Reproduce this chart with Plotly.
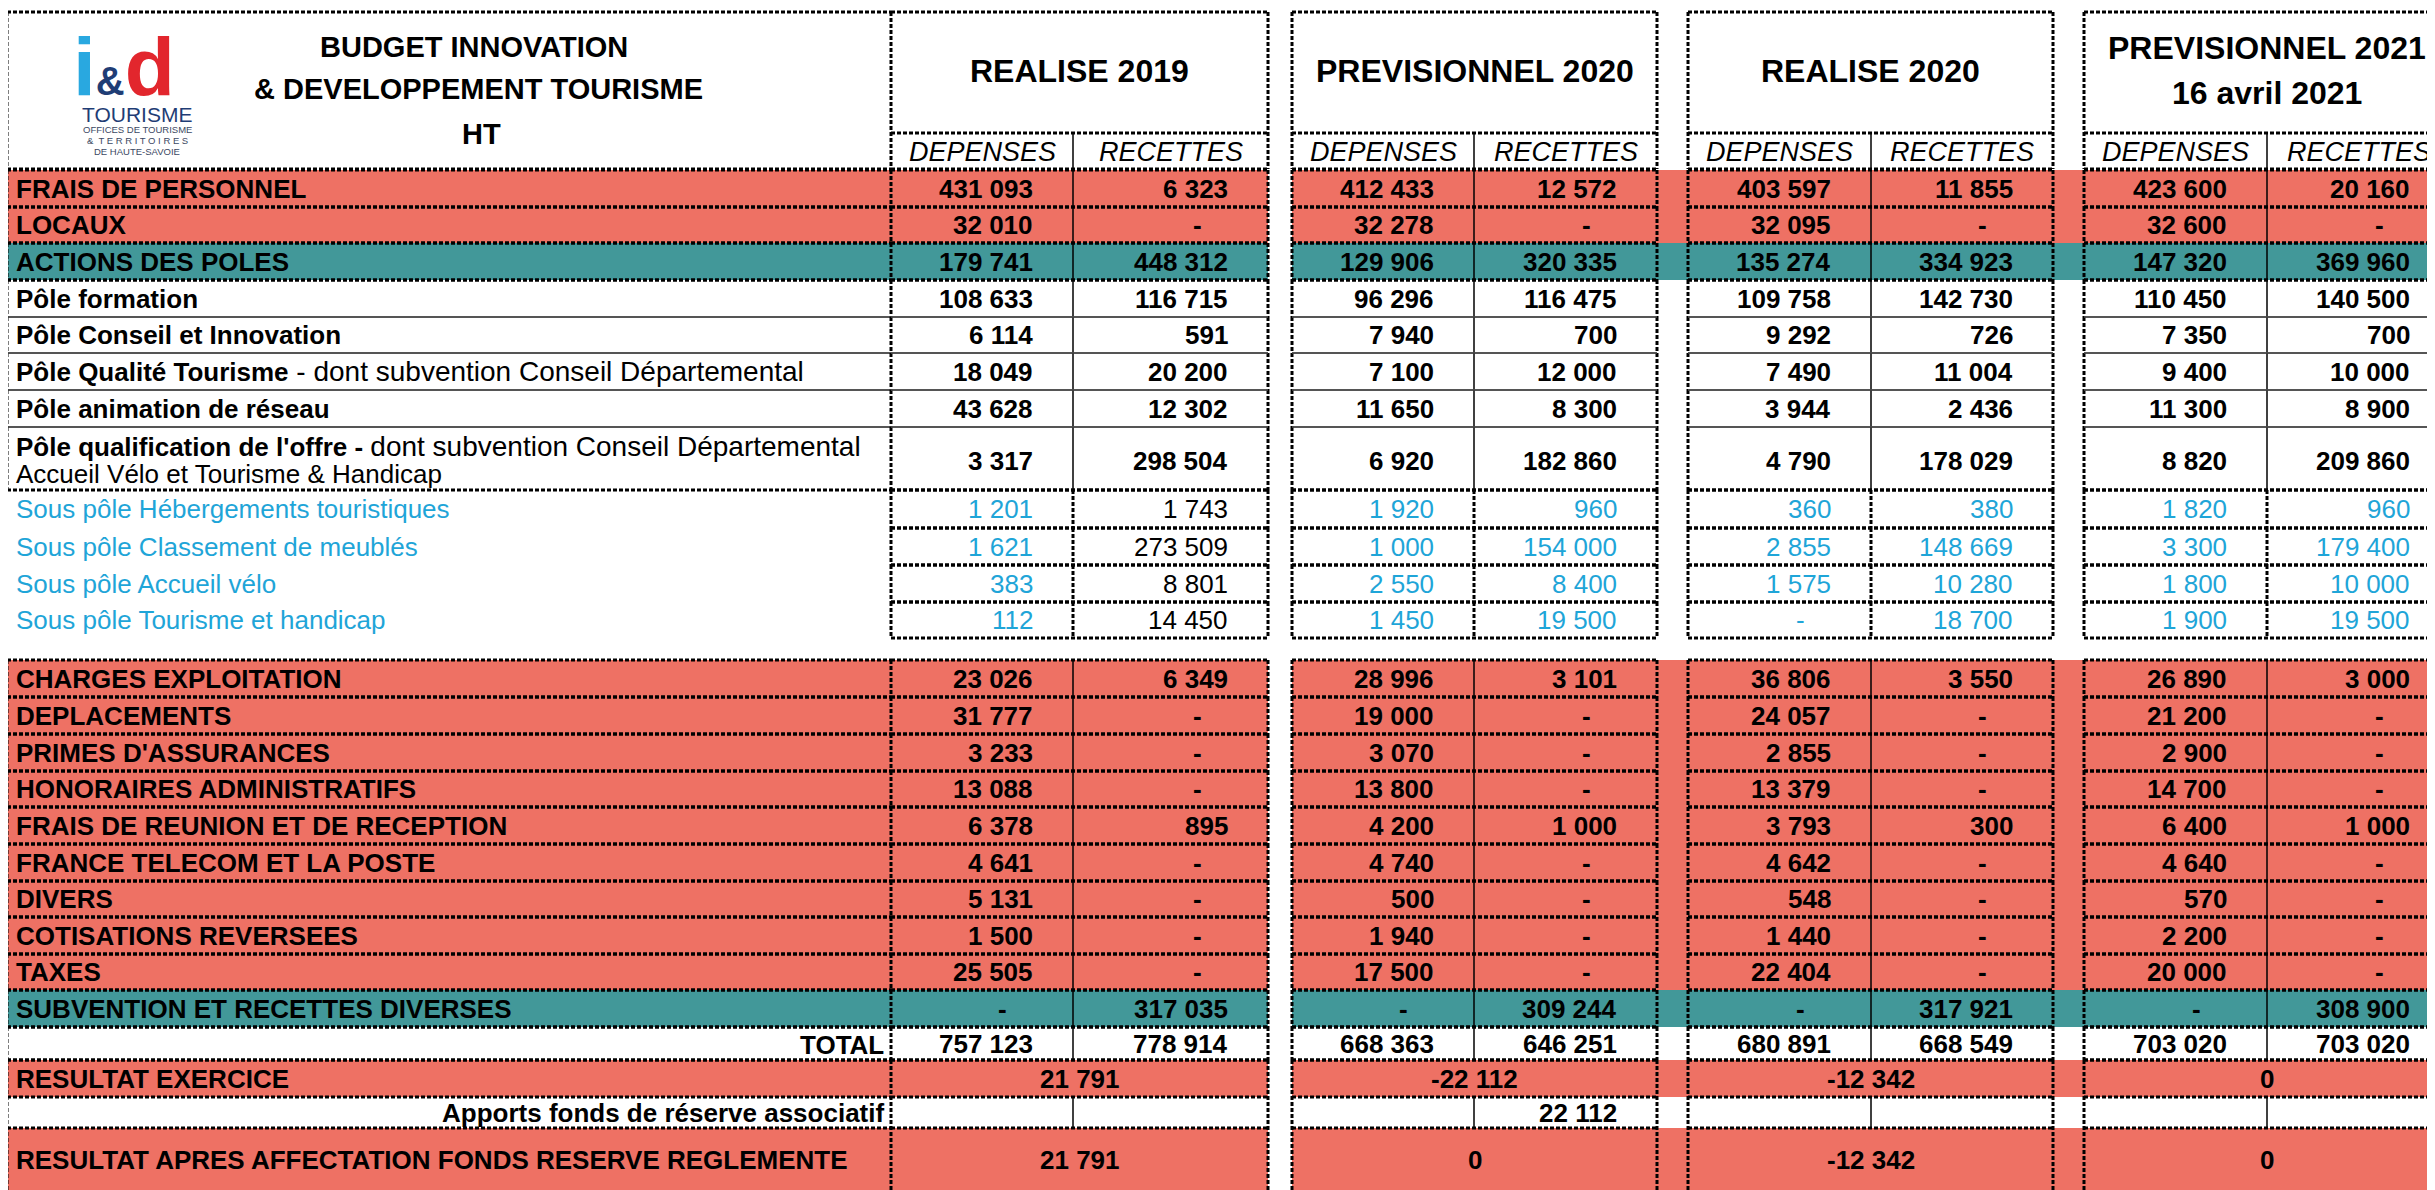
import plotly.graph_objects as go

# ------------------------------------------------------------------ data
title_lines = ["BUDGET INNOVATION", "& DEVELOPPEMENT TOURISME", "HT"]
block_titles = [["REALISE 2019"], ["PREVISIONNEL 2020"], ["REALISE 2020"],
                ["PREVISIONNEL 2021", "16 avril 2021"]]
col_heads = ["DEPENSES", "RECETTES"]

label_main = [
    "FRAIS DE PERSONNEL", "LOCAUX", "ACTIONS DES POLES", "Pôle formation",
    "Pôle Conseil et Innovation", "Pôle Qualité Tourisme", "Pôle animation de réseau",
    "Pôle qualification de l'offre - ",
    "Sous pôle Hébergements touristiques", "Sous pôle Classement de meublés",
    "Sous pôle Accueil vélo", "Sous pôle Tourisme et handicap",
    "CHARGES EXPLOITATION", "DEPLACEMENTS", "PRIMES D'ASSURANCES",
    "HONORAIRES ADMINISTRATIFS", "FRAIS DE REUNION ET DE RECEPTION",
    "FRANCE TELECOM ET LA POSTE", "DIVERS", "COTISATIONS REVERSEES", "TAXES",
    "SUBVENTION ET RECETTES DIVERSES", "TOTAL",
]
label_note = ["", "", "", "", "", " - dont subvention Conseil Départemental", "",
              "dont subvention Conseil Départemental"] + [""] * 15
label_line2 = [""] * 7 + ["Accueil Vélo et Tourisme & Handicap"] + [""] * 15
row_kind = (["salmon", "salmon", "teal", "pole", "pole", "pole", "pole", "pole2",
             "sous", "sous", "sous", "sous"] + ["salmon"] * 9 + ["teal", "total"])

r2019_dep = [431093, 32010, 179741, 108633, 6114, 18049, 43628, 3317, 1201, 1621, 383, 112,
             23026, 31777, 3233, 13088, 6378, 4641, 5131, 1500, 25505, None, 757123]
r2019_rec = [6323, None, 448312, 116715, 591, 20200, 12302, 298504, 1743, 273509, 8801, 14450,
             6349, None, None, None, 895, None, None, None, None, 317035, 778914]
p2020_dep = [412433, 32278, 129906, 96296, 7940, 7100, 11650, 6920, 1920, 1000, 2550, 1450,
             28996, 19000, 3070, 13800, 4200, 4740, 500, 1940, 17500, None, 668363]
p2020_rec = [12572, None, 320335, 116475, 700, 12000, 8300, 182860, 960, 154000, 8400, 19500,
             3101, None, None, None, 1000, None, None, None, None, 309244, 646251]
r2020_dep = [403597, 32095, 135274, 109758, 9292, 7490, 3944, 4790, 360, 2855, 1575, None,
             36806, 24057, 2855, 13379, 3793, 4642, 548, 1440, 22404, None, 680891]
r2020_rec = [11855, None, 334923, 142730, 726, 11004, 2436, 178029, 380, 148669, 10280, 18700,
             3550, None, None, None, 300, None, None, None, None, 317921, 668549]
p2021_dep = [423600, 32600, 147320, 110450, 7350, 9400, 11300, 8820, 1820, 3300, 1800, 1900,
             26890, 21200, 2900, 14700, 6400, 4640, 570, 2200, 20000, None, 703020]
p2021_rec = [20160, None, 369960, 140500, 700, 10000, 8900, 209860, 960, 179400, 10000, 19500,
             3000, None, None, None, 1000, None, None, None, None, 308900, 703020]

resultat_label = "RESULTAT EXERCICE"
resultat_exercice = [21791, -22112, -12342, 0]
apports_label = "Apports fonds de réserve associatif"
apports_rec = [None, 22112, None, None]
apres_label = "RESULTAT APRES AFFECTATION FONDS RESERVE REGLEMENTE"
resultat_apres = [21791, 0, -12342, 0]

block_values = [(r2019_dep, r2019_rec), (p2020_dep, p2020_rec),
                (r2020_dep, r2020_rec), (p2021_dep, p2021_rec)]

# ------------------------------------------------------------------ layout / style
W, H = 2435, 1190
OFF = 8  # default page body margin, compensated through the axis ranges
LX0, LX1 = 7, 891
BLOCKS = [(891, 1073, 1268), (1292, 1474, 1657), (1688, 1871, 2053), (2084, 2267, 2450)]
GAPS = [(1268, 1292, False), (1657, 1688, True), (2053, 2084, True)]
HEAD_TOP, HEAD_SPLIT, HEAD_BOT = 12, 133, 169
ROW_EDGES = [170, 207, 243, 280, 317, 353, 390, 427, 490, 528, 565, 602, 638,
             660, 697, 734, 771, 807, 844, 881, 917, 954, 990, 1027, 1060]
RES_EDGES = [1060, 1097, 1128, 1200]

SALMON = "#EE7164"
TEAL = "#429899"
BLUE = "#1FA5D8"
FONT = "Liberation Sans, Arial, sans-serif"
DASH = dict(color="black", width=3, dash="4px,2px")
THIN = dict(color="black", width=1.5)
GRAY = dict(color="#4a4a4a", width=1.5)
PAD = 38
DASH_OFF = 71
FS = 26
NOTE_FS = 28

shapes, ann = [], []


def rect(x0, x1, y0, y1, color):
    shapes.append(dict(type="rect", xref="x", yref="y", x0=x0, x1=x1, y0=y0, y1=y1,
                       fillcolor=color, line=dict(width=0), layer="below"))


def hline(x0, x1, y, style):
    shapes.append(dict(type="line", xref="x", yref="y", x0=x0, x1=x1, y0=y, y1=y, line=style))


def vline(x, y0, y1, style):
    shapes.append(dict(type="line", xref="x", yref="y", x0=x, x1=x, y0=y0, y1=y1, line=style))


def text(x, y, s, size, color="black", bold=False, italic=False, anchor="left", family=FONT):
    ann.append(dict(x=x, y=y, xref="x", yref="y", text=s, showarrow=False,
                    xanchor=anchor, yanchor="middle", align=anchor,
                    font=dict(size=size, color=color, family=family,
                              weight="bold" if bold else "normal",
                              style="italic" if italic else "normal")))


def fmt(v):
    return format(v, ",").replace(",", " ")


def fill_row(y0, y1, color):
    rect(LX0, BLOCKS[0][2], y0, y1, color)
    for (b0, _, b1) in BLOCKS[1:]:
        rect(b0, b1, y0, y1, color)
    for g0, g1, colored in GAPS:
        if colored:
            rect(g0, g1, y0, y1, color)


def value_cell(col_right, y, v, size, color, bold):
    if v is None:
        text(col_right - DASH_OFF, y, "-", size, color, bold, anchor="center")
    else:
        text(col_right - PAD, y, fmt(v), size, color, bold, anchor="right")


def label_html(main, note):
    s = "<b>" + main + "</b>"
    if note:
        s += "<span style='font-size:%dpx'>%s</span>" % (NOTE_FS, note)
    return s


# ------------------------------------------------------------------ header
hline(LX0, LX1, HEAD_TOP, DASH)
vline(LX0, HEAD_TOP, HEAD_BOT, DASH)
hline(LX0, LX1, HEAD_BOT, DASH)
text(474, 47, title_lines[0], 29, bold=True, anchor="center")
text(478, 89, title_lines[1], 29, bold=True, anchor="center")
text(481, 134, title_lines[2], 29, bold=True, anchor="center")
# logo
logo = ("<span style='color:#29A8E0'>i</span>"
        "<span style='color:#1F3D75;font-size:40px'>&amp;</span>"
        "<span style='color:#E2262D'>d</span>")
text(124, 66, logo, 82, bold=True, anchor="center")
text(137, 114, "TOURISME", 21, "#1F3D75", anchor="center")
text(137, 129, "OFFICES DE TOURISME", 9.5, "#3b4863", anchor="center")
text(137, 140, "&amp;  T E R R I T O I R E S", 9.5, "#3b4863", anchor="center")
text(137, 151, "DE HAUTE-SAVOIE", 9.5, "#3b4863", anchor="center")

for (b0, bd, b1), lines in zip(BLOCKS, block_titles):
    hline(b0, b1, HEAD_TOP, DASH)
    hline(b0, b1, HEAD_SPLIT, DASH)
    hline(b0, b1, HEAD_BOT, DASH)
    vline(b0, HEAD_TOP, HEAD_BOT, DASH)
    vline(b1, HEAD_TOP, HEAD_BOT, DASH)
    vline(bd, HEAD_SPLIT, HEAD_BOT, THIN)
    cx = (b0 + b1) / 2
    if len(lines) == 1:
        text(cx, 71, lines[0], 32, bold=True, anchor="center")
    else:
        text(cx, 48, lines[0], 32, bold=True, anchor="center")
        text(cx, 93, lines[1], 32, bold=True, anchor="center")
    text((b0 + bd) / 2, 152, col_heads[0], 27, italic=True, anchor="center")
    text((bd + b1) / 2, 152, col_heads[1], 27, italic=True, anchor="center")

# ------------------------------------------------------------------ body rows
n_top = 12
for i, kind in enumerate(row_kind):
    if i < n_top:
        y0, y1 = ROW_EDGES[i], ROW_EDGES[i + 1]
    else:
        y0, y1 = ROW_EDGES[i + 1], ROW_EDGES[i + 2]
    yc = (y0 + y1) / 2
    if kind == "salmon":
        fill_row(y0, y1, SALMON)
    elif kind == "teal":
        fill_row(y0, y1, TEAL)

    sous = kind == "sous"
    prev_pole = i > 0 and row_kind[i - 1] == "pole"
    next_pole = i + 1 < len(row_kind) and row_kind[i + 1] in ("pole", "pole2")
    # label
    if kind == "total":
        text(LX1 - 5, yc + 1, label_main[i], FS, bold=True, anchor="right")
    elif sous:
        text(14, yc, label_main[i], FS, BLUE)
    elif kind == "pole2":
        text(14, y0 + 19, label_html(label_main[i], label_note[i]), FS)
        text(14, y0 + 47, label_line2[i], FS)
    else:
        text(14, yc, label_html(label_main[i], label_note[i]), FS)

    top_style = GRAY if (kind in ("pole", "pole2") and prev_pole) else DASH
    bot_style = GRAY if (kind == "pole" and next_pole) else DASH

    # borders of label column
    if not sous:
        vline(LX0, y0, y1, DASH)
        hline(LX0, LX1, y0, top_style)
        hline(LX0, LX1, y1, bot_style)

    # block cells
    for bi, ((b0, bd, b1), (dep, rec)) in enumerate(zip(BLOCKS, block_values)):
        vcol_dep = BLUE if sous else "black"
        vcol_rec = BLUE if (sous and bi > 0) else "black"
        bold = not sous
        vy = yc + (2 if kind == "pole2" else 0)
        value_cell(bd, vy, dep[i], FS, vcol_dep, bold)
        value_cell(b1, vy, rec[i], FS, vcol_rec, bold)
        vline(b0, y0, y1, DASH)
        vline(b1, y0, y1, DASH)
        vline(bd, y0, y1, DASH if sous else THIN)
        hline(b0, b1, y0, top_style)
        hline(b0, b1, y1, bot_style)

# ------------------------------------------------------------------ result rows
(r0, r1, r2, r3) = RES_EDGES
fill_row(r0, r1, SALMON)
fill_row(r2, r3, SALMON)
text(14, (r0 + r1) / 2, resultat_label, FS, bold=True)
text(LX1 - 5, (r1 + r2) / 2, apports_label, FS, bold=True, anchor="right")
text(14, (r2 + H) / 2 + 1, apres_label, FS, bold=True)
vline(LX0, r0, r3, DASH)
for y in (r0, r1, r2):
    hline(LX0, LX1, y, DASH)
for (b0, bd, b1), v1, va, v2 in zip(BLOCKS, resultat_exercice, apports_rec, resultat_apres):
    cx = (b0 + b1) / 2
    text(cx, (r0 + r1) / 2, fmt(v1), FS, bold=True, anchor="center")
    if va is not None:
        text(b1 - PAD, (r1 + r2) / 2, fmt(va), FS, bold=True, anchor="right")
    text(cx, (r2 + H) / 2 + 1, fmt(v2), FS, bold=True, anchor="center")
    vline(b0, r0, r3, DASH)
    vline(b1, r0, r3, DASH)
    vline(bd, r1, r2, THIN)
    for y in (r0, r1, r2):
        hline(b0, b1, y, DASH)

fig = go.Figure(go.Scatter(x=[], y=[], hoverinfo="skip", showlegend=False))
fig.update_layout(
    width=W - OFF, height=H - OFF, margin=dict(l=0, r=0, t=0, b=0),
    paper_bgcolor="white", plot_bgcolor="white",
    xaxis=dict(range=[OFF, W], visible=False, fixedrange=True),
    yaxis=dict(range=[H, OFF], visible=False, fixedrange=True),
    shapes=shapes, annotations=ann, showlegend=False,
)
fig.write_html("out.html")
